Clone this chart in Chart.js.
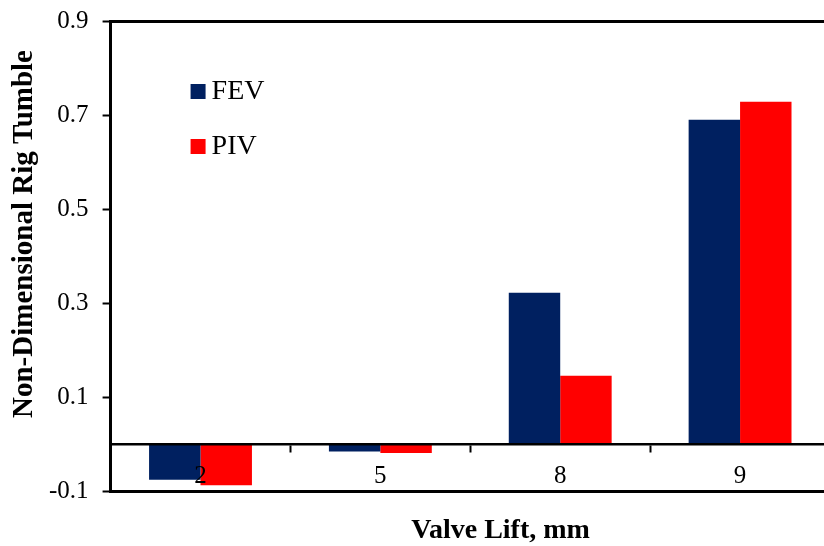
<!DOCTYPE html>
<html>
<head>
<meta charset="utf-8">
<script src="https://cdn.jsdelivr.net/npm/chart.js@4"></script>
<style>
  body { margin: 0; background: #fff; overflow: hidden; }
  #wrap { width: 832px; height: 546px; }
</style>
</head>
<body>
<div id="wrap"><canvas id="tumbleChart"></canvas></div>
<script>
// values
var valveLift = ['2', '5', '8', '9'];
var fevTumble = [-0.076, -0.016, 0.322, 0.690];
var pivTumble = [-0.088, -0.019, 0.145, 0.728];
var yTicks = [-0.1, 0.1, 0.3, 0.5, 0.7, 0.9];

var serif = "'Liberation Serif', 'Times New Roman', serif";

// legend inside the plot + axis titles (they are off-centre in the original)
var decorations = {
    id: 'decorations',
    afterDraw: function (chart) {
        var ctx = chart.ctx;
        var area = chart.chartArea;
        ctx.save();
        ctx.font = '28px ' + serif;
        ctx.textBaseline = 'middle';
        chart.data.datasets.forEach(function (ds, i) {
            var y = area.top + 71 + i * 55;
            ctx.fillStyle = ds.backgroundColor;
            ctx.fillRect(area.left + 80, y - 8, 15, 15);
            ctx.fillStyle = '#000';
            ctx.fillText(ds.label, area.left + 101, y);
        });

        ctx.textAlign = 'center';
        ctx.font = 'bold 28px ' + serif;
        ctx.fillText('Valve Lift, mm', area.left + 390, 531);

        ctx.font = 'bold 29px ' + serif;
        ctx.translate(25, 234);
        ctx.rotate(-Math.PI / 2);
        ctx.fillText('Non-Dimensional Rig Tumble', 0, 0);
        ctx.restore();
    }
};

var ctx = document.getElementById('tumbleChart').getContext('2d');
var chart = new Chart(ctx, {
    type: 'bar',
    data: {
        labels: valveLift,
        datasets: [{
            label: 'FEV',
            backgroundColor: '#002060',
            data: fevTumble
        }, {
            label: 'PIV',
            backgroundColor: '#ff0000',
            data: pivTumble
        }]
    },
    plugins: [decorations],
    options: {
        responsive: true,
        maintainAspectRatio: false,
        animation: false,
        layout: { padding: { left: 35, top: 21, right: 2, bottom: 55 } },
        datasets: { bar: { categoryPercentage: 0.572, barPercentage: 1 } },
        plugins: { legend: { display: false }, tooltip: { enabled: false } },
        scales: {
            x: {
                position: { y: 0 },
                offset: true,
                grid: {
                    offset: true,
                    drawOnChartArea: false,
                    tickLength: 7,
                    tickColor: '#000',
                    tickWidth: 2
                },
                border: { color: '#000', width: 2.5, z: 1 },
                ticks: { color: '#000', font: { family: serif, size: 25 }, padding: 10, z: 1 }
            },
            y: {
                min: -0.1,
                max: 0.9,
                afterBuildTicks: function (scale) {
                    scale.ticks = yTicks.map(function (v) { return { value: v }; });
                },
                // let the layout padding alone decide where the plot top/bottom sit
                afterFit: function (scale) {
                    scale.paddingTop = 0;
                    scale.paddingBottom = 0;
                },
                grid: {
                    color: function (c) {
                        return (c.index === 0 || c.index === yTicks.length - 1) ? '#000' : 'rgba(0,0,0,0)';
                    },
                    lineWidth: 3,
                    tickColor: '#000',
                    tickWidth: 2,
                    tickLength: 8
                },
                border: { color: '#000', width: 3 },
                ticks: {
                    color: '#000',
                    font: { family: serif, size: 25 },
                    padding: 14,
                    callback: function (v) { return v.toFixed(1); }
                }
            }
        }
    }
});
</script>
</body>
</html>
